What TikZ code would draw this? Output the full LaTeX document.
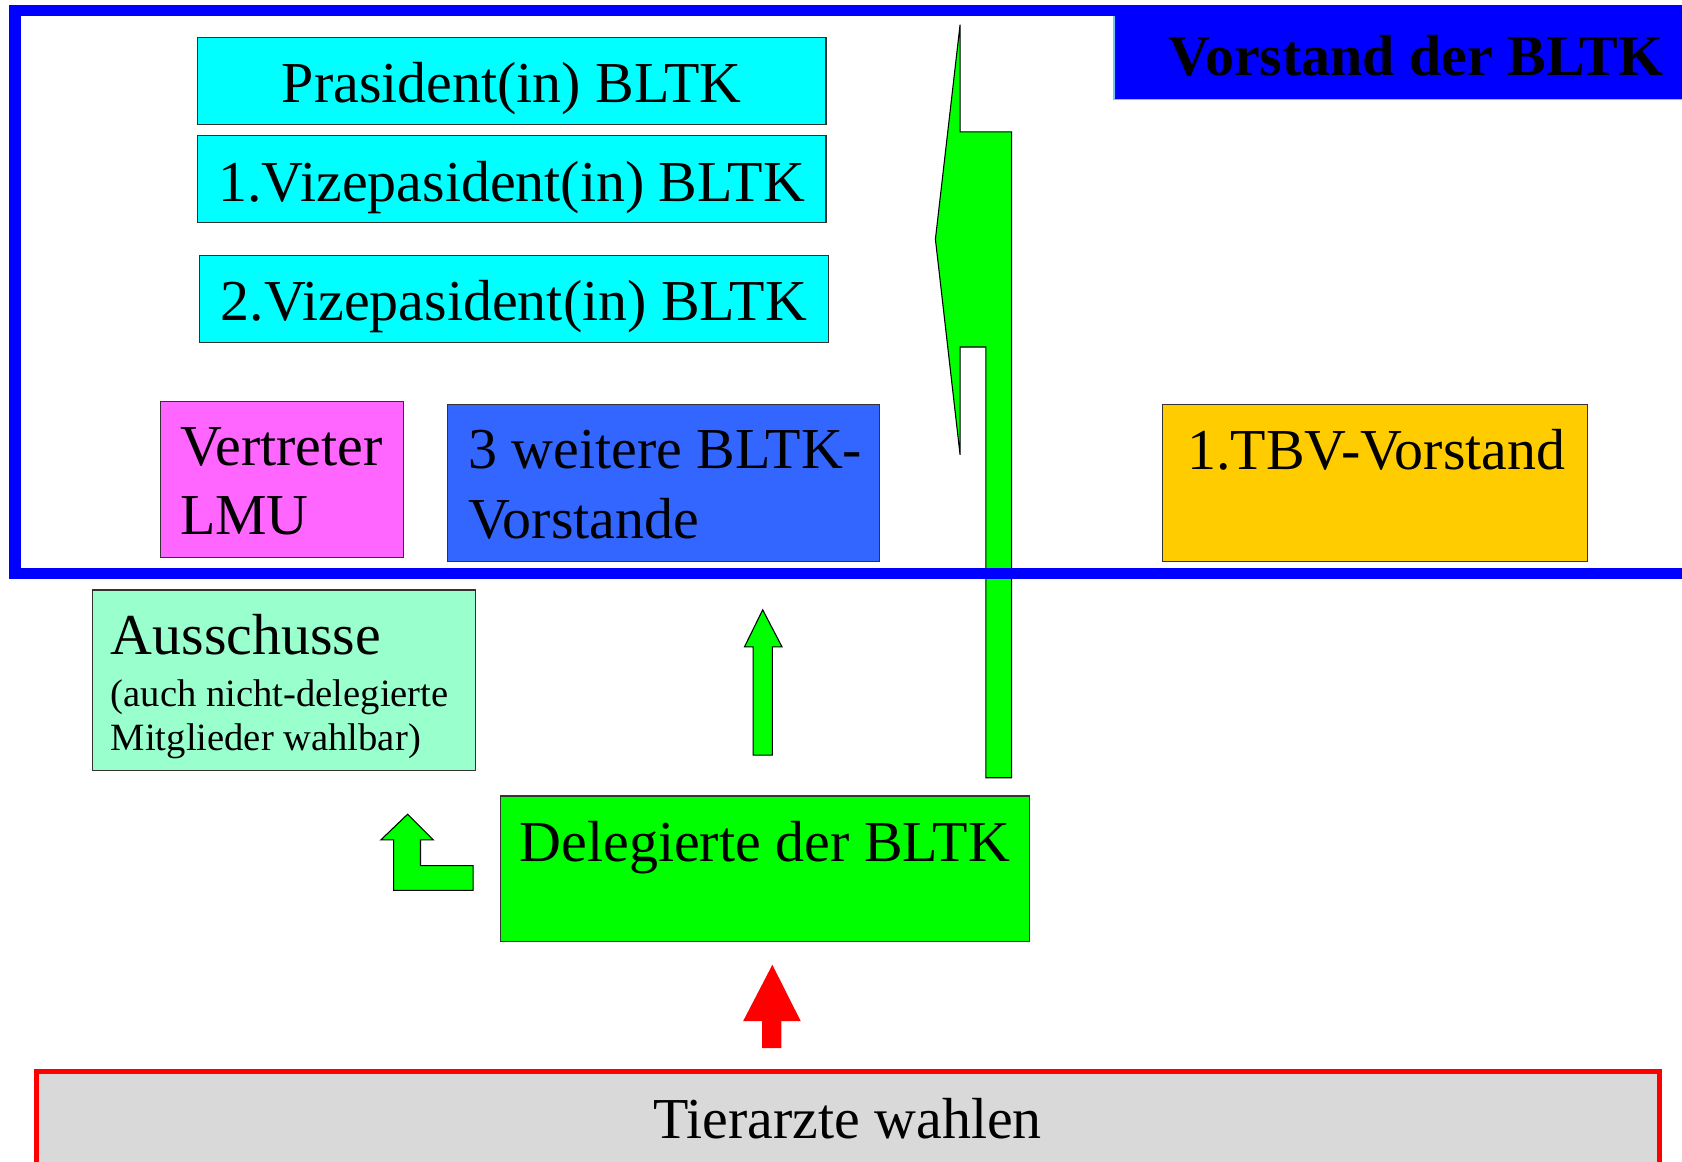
\documentclass[tikz,border=0pt]{standalone}
\usepackage{fontspec}
\setmainfont{Liberation Serif}

\definecolor{aqua}{HTML}{00FFFF}
\definecolor{lmupink}{HTML}{FF66FF}
\definecolor{bltkblue}{HTML}{3366FF}
\definecolor{tbvgold}{HTML}{FFCC00}
\definecolor{mint}{HTML}{99FFCC}
\definecolor{vgreen}{HTML}{00FF00}
\definecolor{lgray}{HTML}{D9D9D9}

\begin{document}
\begin{tikzpicture}[x=0.5pt,y=-0.5pt]
        \tikzstyle{box} = [draw=black!80,line width=0.5pt,inner sep=0pt]
        \tikzstyle{txt} = [inner sep=0pt,font=\fontsize{27}{32}\selectfont]
        \tikzstyle{small} = [inner sep=0pt,font=\fontsize{18}{21}\selectfont]
        \tikzstyle{blockarrow} = [draw=black,line width=0.5pt,fill=vgreen]
        \useasboundingbox (0,0) rectangle (1568,1083);
        \clip (0,0) rectangle (1568,1083);
        % Praesidium
        \foreach \cx/\cy/\n/\t in {477/75.5/pres/{Prasident(in) BLTK},477/167/vizeA/{1.Vizepasident(in) BLTK},479/278.5/vizeB/{2.Vizepasident(in) BLTK}}{
          \node[box,fill=aqua,minimum width=293pt,minimum height=40.5pt] (\n) at (\cx,\cy) {};
          \node[txt,anchor=base] (\n T) at (\cx,\cy+20.5) {\t};
        }
        \node[box,fill=lmupink,minimum width=113pt,minimum height=73pt] (lmu) at (263,447) {};
        \node[txt,anchor=base west] (lmuA) at (167.5,434.3) {Vertreter};
        \node[txt,anchor=base west] (lmuB) at (167.5,498.6) {LMU};
        \node[box,fill=bltkblue,minimum width=201.5pt,minimum height=73pt] (weit) at (618.5,450) {};
        \node[txt,anchor=base west] (weitA) at (436.3,437) {3 weitere BLTK-};
        \node[txt,anchor=base west] (weitB) at (436.3,501.7) {Vorstande};
        \node[box,fill=tbvgold,minimum width=198pt,minimum height=73pt] (tbv) at (1282,450) {};
        \node[txt,anchor=base] (tbvT) at (1283,438) {1.TBV-Vorstand};
        % Ausschuesse und Delegierte
        \node[box,fill=mint,minimum width=178.5pt,minimum height=84pt] (auss) at (264.5,634) {};
        \node[txt,anchor=base west] (aussA) at (103,610.4) {Ausschusse};
        \node[small,anchor=base west] (aussB) at (103,658.6) {(auch nicht-delegierte};
        \node[small,anchor=base west] (aussC) at (103,700) {Mitglieder wahlbar)};
        \node[box,fill=vgreen,minimum width=246.5pt,minimum height=68pt] (del) at (713.5,810) {};
        \node[txt,anchor=base] (delT) at (713,803) {Delegierte der BLTK};
        \node[draw=red,line width=2.35pt,fill=lgray,inner sep=0pt,minimum width=756.5pt,minimum height=43.75pt] (tier) at (790.5,1042.25) {};
        \node[txt,anchor=base] (tierT) at (790,1061.5) {Tierarzte wahlen};
        % Pfeile
        \filldraw[blockarrow] (895,23) -- (895,123) -- (943,123) -- (943,725) -- (919,725) -- (919,323.5) -- (895,323.5) -- (895,424) -- (872,223) -- cycle;
        \filldraw[blockarrow] (711,568.5) -- (729,603) -- (720,603) -- (720,704) -- (702,704) -- (702,603) -- (694,603) -- cycle;
        \filldraw[blockarrow] (380,759) -- (404,783) -- (392,783) -- (392,807) -- (441,807) -- (441,830) -- (367,830) -- (367,783) -- (355,783) -- cycle;
        \fill[red] (720,899.4) -- (746.5,952) -- (728.5,952) -- (728.5,977) -- (710.5,977) -- (710.5,952) -- (692.7,952) -- cycle;
        % Vorstand
        \node[fill=blue,draw=cyan!60,line width=0.5pt,inner sep=0pt,anchor=north west,minimum width=281pt,minimum height=40pt] (title) at (1038,12) {};
        \draw[blue,line width=5.25pt] (1600,9.8) -- (14,9.8) -- (14,534.5) -- (1600,534.5);
        \node[txt,font=\fontsize{27}{32}\selectfont\bfseries,anchor=base west] (titleT) at (1089,70.8) {Vorstand der BLTK};
\end{tikzpicture}
\end{document}
